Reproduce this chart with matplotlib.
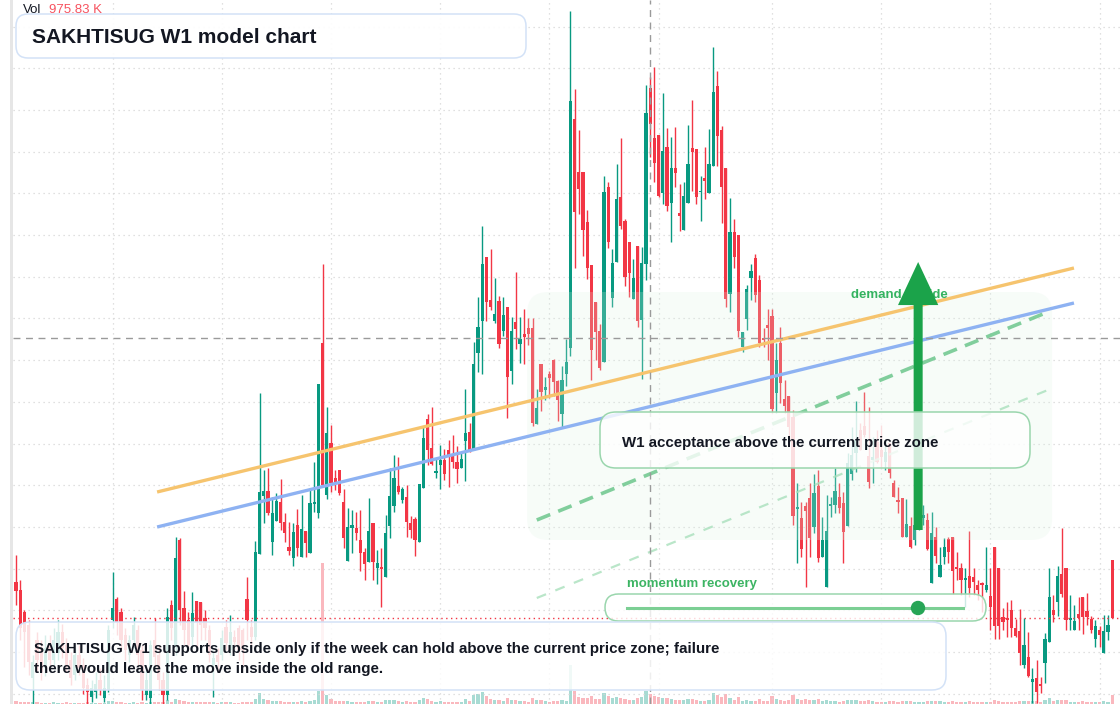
import numpy as np
import matplotlib
matplotlib.use('Agg')
import matplotlib.pyplot as plt
import matplotlib.transforms as mtransforms
from matplotlib.patches import FancyBboxPatch, FancyArrowPatch, Circle, Rectangle

plt.rcParams['font.family'] = ['Liberation Sans', 'DejaVu Sans']

# weekly OHLC (price)
opens = [
    41.8, 41.0, 38.8, 37.5, 32.2, 36.0, 35.0, 33.2, 35.5, 34.0,
    34.7, 36.8, 35.5, 34.0, 32.5, 34.5, 33.5, 31.5, 30.3, 30.8,
    32.0, 30.2, 31.0, 38.0, 40.1, 38.8, 36.5, 34.5, 36.0, 37.0,
    35.0, 30.5, 30.2, 36.0, 34.5, 32.0, 30.5, 39.5, 35.3, 46.0,
    39.2, 38.0, 36.3, 39.9, 39.8, 38.2, 37.0, 33.5, 34.5, 34.5,
    37.3, 35.0, 36.3, 37.2, 37.0, 40.1, 37.3, 36.3, 44.6, 50.4,
    50.9, 45.8, 47.9, 49.8, 47.8, 45.3, 44.2, 47.5, 44.3, 46.9,
    44.7, 49.6, 48.7, 65.7, 50.5, 55.7, 52.2, 53.0, 49.8, 43.9,
    47.2, 47.2, 46.0, 44.8, 43.8, 47.7, 43.2, 43.3, 42.3, 47.4,
    49.4, 51.4, 50.0, 50.3, 47.7, 48.1, 45.8, 51.2, 58.1, 55.2,
    52.7, 53.5, 54.0, 55.0, 54.4, 53.8, 53.2, 55.9, 56.8, 55.0,
    64.7, 67.9, 74.3, 70.0, 67.9, 69.9, 66.9, 69.3, 62.9, 67.8,
    65.6, 66.6, 67.2, 67.2, 57.6, 63.6, 61.0, 62.6, 64.0, 61.9,
    58.6, 62.6, 65.2, 88.1, 82.8, 82.8, 77.8, 73.5, 69.8, 66.9,
    63.8, 81.3, 70.2, 73.8, 80.3, 77.9, 75.8, 70.1, 75.4, 68.0,
    73.6, 91.2, 86.2, 86.5, 80.7, 85.3, 79.7, 83.2, 78.7, 77.0,
    79.7, 85.2, 85.1, 80.8, 82.2, 80.7, 83.4, 91.4, 87.0, 83.2,
    70.6, 76.8, 76.5, 65.3, 68.1, 72.2, 74.2, 72.0, 66.2, 67.5,
    68.4, 60.7, 65.7, 60.1, 60.4, 58.3, 49.1, 48.2, 49.4, 50.2,
    47.3, 51.4, 44.3, 41.3, 49.4, 49.5, 50.3, 49.7, 47.4, 52.6,
    54.7, 57.0, 57.4, 54.4, 54.0, 55.8, 55.0, 53.8, 55.7, 51.7,
    50.0, 50.2, 46.3, 47.4, 46.0, 48.0, 48.2, 48.0, 41.7, 46.3,
    42.3, 44.3, 46.1, 46.3, 43.3, 43.2, 42.0, 42.4, 42.3, 41.5,
    41.7, 41.0, 40.4, 45.3, 43.2, 38.3, 38.2, 39.0, 37.2, 36.9,
    33.5, 34.3, 31.8, 32.2, 31.6, 33.7, 35.8, 39.0, 39.8, 42.6,
    43.2, 38.0, 37.0, 38.6, 40.3, 38.9, 38.1, 36.1, 37.0, 34.7,
    36.8, 44.0,
]
highs = [
    44.5, 42.0, 39.0, 38.0, 34.5, 36.8, 36.0, 36.5, 36.5, 37.2,
    38.0, 37.6, 36.2, 34.8, 35.2, 35.5, 34.2, 32.2, 32.0, 32.8,
    33.2, 32.5, 37.5, 42.8, 40.3, 39.2, 37.2, 36.5, 38.3, 37.5,
    35.5, 33.0, 36.0, 38.2, 35.5, 32.8, 39.2, 40.0, 46.3, 46.2,
    40.9, 38.8, 40.8, 39.9, 39.8, 39.0, 37.5, 35.0, 35.2, 37.0,
    38.0, 38.5, 37.0, 37.5, 37.2, 42.3, 38.0, 45.9, 60.7, 53.0,
    53.2, 50.3, 50.7, 52.1, 48.7, 47.8, 47.7, 49.1, 50.5, 46.9,
    51.1, 53.8, 61.6, 73.6, 59.3, 57.5, 53.0, 53.0, 51.1, 49.2,
    49.0, 48.8, 49.0, 45.2, 50.2, 47.7, 45.0, 45.2, 48.5, 53.2,
    54.5, 54.3, 51.3, 51.5, 48.4, 48.3, 51.6, 57.4, 58.6, 59.3,
    54.2, 55.5, 55.1, 56.0, 56.5, 55.4, 54.7, 61.1, 57.7, 65.8,
    70.3, 77.4, 74.3, 75.1, 72.2, 70.4, 70.3, 69.3, 68.3, 72.8,
    68.3, 69.1, 68.2, 68.2, 61.1, 63.6, 62.3, 62.9, 64.1, 62.0,
    63.4, 66.1, 98.9, 91.1, 87.0, 82.8, 79.0, 73.5, 69.8, 67.6,
    82.4, 81.8, 75.1, 83.6, 86.2, 78.1, 75.8, 74.1, 75.4, 75.3,
    91.5, 92.3, 93.3, 86.5, 90.7, 87.2, 86.3, 87.3, 81.6, 81.8,
    87.5, 90.0, 85.1, 82.4, 85.3, 87.1, 95.3, 92.9, 87.4, 83.2,
    80.2, 78.1, 76.5, 66.8, 71.5, 73.6, 74.6, 72.5, 67.2, 69.1,
    69.1, 65.7, 67.3, 62.0, 60.4, 59.0, 51.7, 49.8, 49.8, 51.7,
    52.6, 53.0, 48.3, 50.5, 50.3, 53.2, 51.7, 50.8, 54.7, 57.3,
    59.9, 57.7, 60.8, 59.3, 56.3, 57.0, 57.5, 56.0, 55.7, 52.0,
    51.3, 50.2, 50.1, 48.3, 48.5, 49.2, 49.5, 48.7, 48.8, 47.3,
    45.3, 46.2, 46.3, 46.3, 44.8, 43.7, 43.2, 46.9, 43.2, 42.0,
    41.8, 45.3, 43.2, 45.3, 43.2, 39.2, 39.8, 40.0, 38.1, 39.1,
    38.2, 36.8, 33.2, 34.0, 32.3, 36.7, 43.2, 40.5, 43.4, 47.2,
    43.2, 40.5, 39.5, 40.3, 40.3, 40.7, 38.4, 38.0, 37.4, 38.5,
    38.5, 44.0,
]
lows = [
    39.5, 36.0, 33.3, 32.5, 29.2, 32.8, 32.0, 32.4, 33.2, 33.5,
    34.0, 34.2, 32.8, 31.5, 32.0, 32.5, 30.6, 29.2, 29.8, 30.2,
    30.5, 29.8, 30.8, 37.2, 36.5, 35.0, 34.0, 33.8, 35.2, 33.5,
    30.0, 30.0, 29.6, 33.5, 31.0, 29.2, 30.0, 36.0, 34.5, 37.5,
    35.5, 35.0, 35.2, 35.2, 36.0, 36.0, 33.8, 30.3, 33.0, 34.0,
    35.0, 34.5, 35.0, 34.0, 33.5, 36.0, 35.2, 36.0, 44.6, 47.7,
    48.5, 44.5, 47.9, 47.0, 45.8, 44.5, 43.4, 44.4, 44.3, 44.3,
    44.7, 48.8, 48.2, 51.5, 50.1, 50.8, 51.0, 50.5, 45.2, 43.9,
    44.7, 46.0, 42.9, 42.0, 43.8, 42.0, 41.6, 39.3, 42.3, 46.2,
    48.8, 50.6, 49.7, 46.3, 46.2, 44.4, 45.8, 51.2, 53.5, 53.5,
    52.2, 51.1, 52.0, 51.3, 53.2, 51.7, 53.2, 51.9, 54.8, 55.0,
    62.8, 62.6, 67.9, 69.0, 67.7, 65.2, 66.4, 58.2, 61.6, 65.1,
    63.7, 63.6, 65.5, 57.4, 57.6, 58.9, 60.0, 60.2, 60.4, 57.9,
    57.2, 61.4, 64.4, 73.2, 78.6, 74.4, 72.1, 62.0, 64.0, 63.0,
    63.8, 75.2, 69.3, 73.8, 77.1, 71.4, 70.3, 70.1, 67.3, 62.1,
    72.0, 84.3, 81.8, 80.3, 79.6, 78.9, 75.8, 81.3, 76.9, 77.0,
    79.7, 80.9, 79.6, 77.9, 80.1, 80.7, 83.4, 83.4, 77.7, 69.3,
    68.8, 73.2, 66.3, 64.8, 67.0, 70.0, 69.8, 65.3, 65.3, 64.0,
    58.7, 58.7, 59.7, 58.7, 56.0, 47.5, 43.7, 44.3, 41.3, 44.3,
    46.7, 43.8, 44.3, 41.3, 48.3, 48.7, 48.7, 43.7, 47.4, 52.0,
    52.8, 55.0, 56.3, 51.2, 51.7, 53.7, 53.3, 53.0, 52.2, 50.3,
    48.7, 46.3, 46.3, 45.2, 45.5, 47.0, 47.5, 45.0, 41.7, 43.7,
    42.3, 43.6, 43.7, 40.6, 42.0, 40.5, 39.3, 40.3, 40.5, 40.0,
    38.8, 40.8, 37.0, 36.1, 36.1, 37.0, 36.3, 36.3, 36.3, 33.5,
    33.2, 32.3, 29.7, 29.7, 30.7, 31.7, 35.8, 37.8, 38.4, 40.3,
    37.0, 37.0, 37.0, 37.0, 36.6, 37.5, 36.7, 35.3, 35.3, 34.7,
    36.0, 38.2,
]
closes = [
    40.9, 37.2, 36.8, 33.8, 33.8, 34.0, 32.8, 35.2, 34.0, 36.0,
    36.8, 35.2, 33.5, 32.2, 34.5, 33.2, 31.2, 30.8, 31.2, 31.6,
    31.0, 31.2, 37.0, 39.2, 37.8, 36.0, 35.0, 36.0, 37.5, 34.5,
    31.0, 32.0, 35.5, 34.3, 32.0, 30.5, 38.3, 37.2, 44.2, 39.0,
    37.0, 35.5, 38.7, 37.8, 37.5, 37.2, 34.5, 34.2, 33.8, 36.2,
    35.7, 36.8, 35.8, 35.0, 35.0, 38.0, 36.3, 44.8, 50.8, 50.9,
    48.7, 48.7, 49.9, 47.7, 46.7, 44.9, 46.8, 45.2, 47.1, 45.7,
    49.7, 49.8, 61.6, 51.5, 56.7, 51.7, 51.8, 50.7, 46.2, 47.3,
    47.5, 46.7, 44.7, 43.6, 46.9, 43.8, 43.7, 43.1, 46.7, 50.4,
    52.2, 50.8, 51.1, 47.8, 47.0, 46.0, 51.6, 56.2, 55.0, 53.6,
    52.9, 54.0, 52.6, 54.5, 53.8, 53.1, 54.1, 56.7, 54.8, 63.6,
    67.3, 73.6, 69.8, 69.3, 68.6, 65.6, 68.5, 62.3, 66.9, 67.1,
    66.1, 66.3, 66.6, 57.7, 59.2, 60.8, 61.3, 62.2, 61.8, 60.0,
    62.0, 63.8, 89.9, 78.8, 81.1, 77.0, 73.2, 65.0, 66.8, 63.2,
    80.8, 75.8, 73.7, 80.1, 77.4, 72.3, 72.7, 72.2, 67.9, 73.7,
    88.7, 87.6, 83.7, 80.4, 84.9, 79.4, 83.2, 82.7, 78.4, 80.4,
    83.6, 84.8, 80.3, 80.8, 81.9, 83.6, 90.8, 86.4, 81.3, 70.1,
    76.8, 74.3, 66.9, 66.8, 71.1, 72.9, 70.5, 65.7, 66.0, 67.2,
    59.1, 64.0, 61.7, 59.4, 57.3, 48.4, 49.3, 45.1, 48.9, 46.2,
    50.7, 44.2, 46.0, 46.9, 49.6, 50.9, 49.2, 46.8, 53.7, 54.5,
    56.0, 55.0, 56.5, 51.8, 54.3, 53.8, 54.3, 54.8, 52.7, 50.3,
    49.8, 46.3, 47.6, 45.3, 47.5, 48.5, 48.5, 45.1, 46.7, 44.4,
    43.5, 45.3, 44.8, 42.9, 43.1, 42.0, 42.2, 41.2, 41.8, 41.0,
    41.5, 41.5, 39.3, 37.4, 37.4, 37.8, 38.0, 37.2, 36.4, 34.7,
    35.5, 32.4, 32.1, 30.8, 31.4, 36.1, 40.3, 38.5, 42.4, 40.6,
    38.0, 38.2, 37.9, 38.2, 38.3, 38.3, 37.0, 37.4, 36.5, 36.9,
    37.5, 38.2,
]
# weekly volume, thousands of shares
volume_k = [
    330, 260, 220, 190, 210, 170, 160, 160, 150, 180, 160, 150, 170, 140, 160, 140, 160, 180, 150, 140,
    140, 150, 280, 360, 250, 190, 160, 160, 170, 160, 190, 150, 210, 220, 170, 180, 390, 260, 580, 470,
    290, 220, 240, 220, 200, 190, 170, 200, 160, 170, 180, 180, 150, 160, 170, 250, 190, 540, 1160, 500,
    390, 340, 290, 280, 240, 230, 260, 220, 280, 210, 350, 380, 1440, 15200, 920, 560, 300, 270, 330, 290,
    260, 220, 250, 230, 330, 280, 220, 260, 390, 480, 420, 290, 220, 270, 220, 240, 440, 660, 520, 360,
    260, 270, 220, 240, 210, 220, 200, 500, 330, 960, 1080, 1320, 840, 520, 390, 460, 360, 600, 440, 400,
    300, 290, 260, 640, 390, 440, 280, 260, 270, 360, 420, 350, 4200, 1360, 760, 680, 600, 880, 520, 500,
    1160, 840, 600, 720, 680, 560, 480, 390, 600, 760, 1440, 1040, 840, 720, 680, 600, 580, 440, 400, 380,
    520, 500, 400, 350, 330, 440, 1240, 1000, 760, 1040, 680, 440, 720, 360, 400, 340, 360, 560, 280, 320,
    840, 520, 440, 360, 380, 960, 520, 480, 500, 460, 420, 520, 360, 440, 280, 320, 260, 360, 480, 400,
    440, 320, 360, 380, 280, 260, 240, 250, 270, 320, 240, 340, 280, 290, 260, 220, 210, 310, 360, 300,
    290, 260, 230, 320, 220, 240, 220, 300, 210, 190, 200, 220, 260, 440, 360, 250, 220, 260, 220, 330,
    300, 350, 280, 300, 210, 440, 640, 330, 400, 480, 390, 250, 220, 220, 290, 240, 220, 260, 210, 280,
    220, 975.83,
]

last_price = 38.2
cross_week, cross_price = 151, 66.2
grid_weeks = [23, 49, 75, 101, 127, 153, 180, 206, 232, 258]

# model lines (week index, price)
orange_x, orange_y = [33.6, 251.9], [50.8, 73.2]
blue_x, blue_y = [33.6, 251.9], [47.3, 69.7]
accept_x, accept_y = [124.0, 245.7], [48.0, 68.8]
lower_x, lower_y = [124.0, 245.7], [40.2, 61.0]
zone_weeks, zone_prices = [121.7, 246.7], [46.0, 70.8]
arrow_week, arrow_from, arrow_to = 214.8, 47.0, 73.8

UP, DOWN = '#089981', '#f23645'
W, H = 1120, 704

fig = plt.figure(figsize=(W / 100, H / 100), dpi=100, facecolor='white')
pos = [13 / W, 0, (W - 13) / W, 1]
xlim = (-0.71, 262.86)
ylim = (29.6, 100.0)

# volume pane underneath
axv = fig.add_axes(pos, zorder=0)
ax = fig.add_axes(pos, zorder=1)
ax.patch.set_alpha(0)

idx = np.arange(len(opens))
o = np.array(opens)
c = np.array(closes)
colors = np.where(c >= o, UP, DOWN)

axv.bar(idx, volume_k, width=0.78, color=colors, alpha=0.35, linewidth=0)
axv.set_xlim(*xlim)
axv.set_ylim(0, 76000)
axv.axis('off')

# grid
ax.set_xlim(*xlim)
ax.set_ylim(*ylim)
ax.set_xticks(grid_weeks)
ax.set_yticks(np.arange(30.63, 99, 4.17))
ax.grid(True, color='#d6d6d6', linestyle=(0, (1, 3)), linewidth=0.9, zorder=0)
ax.tick_params(length=0, labelbottom=False, labelleft=False)
for s in ax.spines.values():
    s.set_visible(False)

# candles
ax.vlines(idx, lows, highs, colors=colors, linewidth=1.0, zorder=2)
ax.bar(idx, np.maximum(np.abs(c - o), 0.12), bottom=np.minimum(o, c), width=0.8,
       color=colors, linewidth=0, zorder=2.1)

# green zone
zone = FancyBboxPatch((zone_weeks[0], zone_prices[0]), zone_weeks[1] - zone_weeks[0],
                      zone_prices[1] - zone_prices[0],
                      boxstyle='round,pad=0,rounding_size=5', mutation_aspect=0.42,
                      facecolor='#dcf3e3', edgecolor='none', alpha=0.22, zorder=3)
ax.add_patch(zone)

ax.plot(orange_x, orange_y, color='#f6c46e', lw=2.4, solid_capstyle='butt', zorder=4)
ax.plot(blue_x, blue_y, color='#8eb2f2', lw=2.4, solid_capstyle='butt', zorder=4)
ax.plot(accept_x, accept_y, color='#6cc68c', lw=2.6, alpha=0.85, linestyle=(0, (4, 2.4)), zorder=4)
ax.plot(lower_x, lower_y, color='#a9e0bc', lw=1.6, alpha=0.8, linestyle=(0, (4.5, 4.5)), zorder=4)

ax.axhline(last_price, color=DOWN, lw=1, linestyle=(0, (1, 2.5)), zorder=4)
ax.axhline(cross_price, color='#9a9a9a', lw=1, linestyle=(0, (5, 4)), zorder=4)
ax.axvline(cross_week, color='#9a9a9a', lw=1, linestyle=(0, (5, 4)), zorder=4)

# pixel transform for the annotation boxes
px = mtransforms.Affine2D().scale(1 / W, -1 / H).translate(0, 1) + fig.transFigure

ax.text(851, 298, 'demand upside', transform=px, color='#34b360', fontsize=9.5,
        fontweight='bold', zorder=4.8)
arrow = FancyArrowPatch((arrow_week, arrow_from), (arrow_week, arrow_to),
                        arrowstyle='simple,head_width=29,head_length=31,tail_width=6.5',
                        mutation_scale=1, color='#1ba34a', lw=0, shrinkA=0, shrinkB=0, zorder=5)
ax.add_patch(arrow)


def box(x, y, w, h, r, edge, alpha):
    p = FancyBboxPatch((x, y), w, h, boxstyle=f'round,pad=0,rounding_size={r}',
                       transform=px, edgecolor=edge, linewidth=1.1,
                       clip_on=False, zorder=6)
    p.set_facecolor((1, 1, 1, alpha))
    ax.add_patch(p)


box(16, 14, 510, 44, 12, '#d3e2f7', 0.92)
box(600, 412, 430, 56, 16, '#9ad6ad', 0.8)
box(605, 594, 381, 27, 13.5, '#9ad6ad', 0.8)
box(16, 622, 930, 68, 14, '#d3e2f7', 0.84)

ax.text(32, 43, 'SAKHTISUG W1 model chart', transform=px, fontsize=15,
        fontweight='bold', color='#131722', zorder=7)
ax.text(23, 13, 'Vol', transform=px, fontsize=9.5, color='#131722', zorder=7)
ax.text(49, 13, '975.83 K', transform=px, fontsize=9.5, color='#f7525f', zorder=7)
ax.text(622, 446.5, 'W1 acceptance above the current price zone', transform=px,
        fontsize=10.8, fontweight='bold', color='#131722', zorder=7)
ax.text(627, 587, 'momentum recovery', transform=px, fontsize=9.5,
        fontweight='bold', color='#3cb463', zorder=7)
ax.plot([627, 963], [608, 608], transform=px, color='#7ccf94', lw=2.2, zorder=7,
        clip_on=False)
ax.add_patch(Circle((918, 608), 6.5, transform=px, color='#27a556', zorder=7.1,
                    clip_on=False))
ax.text(34, 653.5, 'SAKHTISUG W1 supports upside only if the week can hold above the '
        'current price zone; failure', transform=px, fontsize=10.9, fontweight='bold',
        color='#131722', zorder=7)
ax.text(34, 673, 'there would leave the move inside the old range.', transform=px,
        fontsize=10.9, fontweight='bold', color='#131722', zorder=7)

fig.patches.append(Rectangle((10 / W, 0), 3 / W, 1, transform=fig.transFigure,
                             facecolor='#e6e6e6', edgecolor='none'))

fig.savefig('out.png', dpi=100, facecolor='white')
